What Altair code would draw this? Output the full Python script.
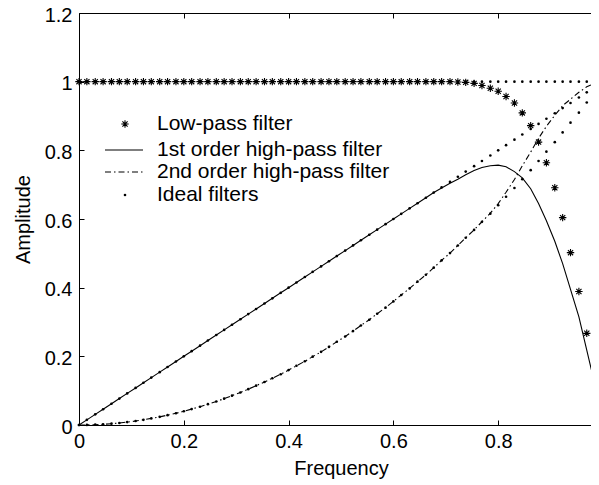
import altair as alt
import pandas as pd

# ---------------- data ----------------
freq = [0.0, 0.015, 0.031, 0.046, 0.062, 0.077, 0.092, 0.108, 0.123, 0.138,
        0.154, 0.169, 0.185, 0.2, 0.215, 0.231, 0.246, 0.262, 0.277, 0.292,
        0.308, 0.323, 0.338, 0.354, 0.369, 0.385, 0.4, 0.415, 0.431, 0.446,
        0.462, 0.477, 0.492, 0.508, 0.523, 0.538, 0.554, 0.569, 0.585, 0.6,
        0.615, 0.631, 0.646, 0.662, 0.677, 0.692, 0.708, 0.723, 0.738, 0.754,
        0.769, 0.785, 0.8, 0.815, 0.831, 0.846, 0.862, 0.877, 0.892, 0.908,
        0.923, 0.938, 0.954, 0.969, 0.985, 1.0]

low_pass = [1.0, 1.0, 1.0, 1.0, 1.0, 1.0, 1.0, 1.0, 1.0, 1.0,
            1.0, 1.0, 1.0, 1.0, 1.0, 1.0, 1.0, 1.0, 1.0, 1.0,
            1.0, 1.0, 1.0, 1.0, 1.0, 1.0, 1.0, 1.0, 1.0, 1.0,
            1.0, 1.0, 1.0, 1.0, 1.0, 1.0, 1.0, 1.0, 1.0, 1.0,
            1.0, 1.0, 1.0, 1.0, 1.0, 1.0, 1.0, 0.999, 0.998, 0.995,
            0.989, 0.981, 0.972, 0.957, 0.938, 0.909, 0.872, 0.824, 0.764, 0.691,
            0.604, 0.502, 0.389, 0.267, 0.136, 0.0]

first_order = [0.0, 0.015, 0.031, 0.046, 0.062, 0.077, 0.092, 0.108, 0.123, 0.138,
               0.154, 0.169, 0.185, 0.2, 0.215, 0.231, 0.246, 0.262, 0.277, 0.292,
               0.308, 0.323, 0.338, 0.354, 0.369, 0.385, 0.4, 0.415, 0.431, 0.446,
               0.462, 0.477, 0.492, 0.508, 0.523, 0.538, 0.554, 0.569, 0.585, 0.6,
               0.615, 0.631, 0.646, 0.662, 0.677, 0.69, 0.704, 0.716, 0.729, 0.741,
               0.75, 0.755, 0.757, 0.752, 0.738, 0.72, 0.688, 0.645, 0.595, 0.535,
               0.47, 0.395, 0.315, 0.218, 0.115, 0.01]

second_order = [0.0, 0.0002, 0.0009, 0.0021, 0.0038, 0.0059, 0.0085, 0.0116, 0.0151, 0.0192,
                0.0237, 0.0286, 0.0341, 0.04, 0.0464, 0.0533, 0.0606, 0.0684, 0.0767, 0.0854,
                0.0947, 0.1044, 0.1146, 0.1252, 0.1363, 0.1479, 0.16, 0.1725, 0.1856, 0.1991,
                0.213, 0.2275, 0.2424, 0.2578, 0.2736, 0.2899, 0.3067, 0.324, 0.3418, 0.36,
                0.3787, 0.3979, 0.4175, 0.4376, 0.4582, 0.4793, 0.5008, 0.5228, 0.5453, 0.5683,
                0.592, 0.617, 0.645, 0.678, 0.715, 0.755, 0.795, 0.835, 0.87, 0.902,
                0.93, 0.949, 0.969, 0.985, 0.996, 1.0]

ideal_flat = [1.0, 1.0, 1.0, 1.0, 1.0, 1.0, 1.0, 1.0, 1.0, 1.0,
              1.0, 1.0, 1.0, 1.0, 1.0, 1.0, 1.0, 1.0, 1.0, 1.0,
              1.0, 1.0, 1.0, 1.0, 1.0, 1.0, 1.0, 1.0, 1.0, 1.0,
              1.0, 1.0, 1.0, 1.0, 1.0, 1.0, 1.0, 1.0, 1.0, 1.0,
              1.0, 1.0, 1.0, 1.0, 1.0, 1.0, 1.0, 1.0, 1.0, 1.0,
              1.0, 1.0, 1.0, 1.0, 1.0, 1.0, 1.0, 1.0, 1.0, 1.0,
              1.0, 1.0, 1.0, 1.0, 1.0, 1.0]

ideal_first = [0.0, 0.015, 0.031, 0.046, 0.062, 0.077, 0.092, 0.108, 0.123, 0.138,
               0.154, 0.169, 0.185, 0.2, 0.215, 0.231, 0.246, 0.262, 0.277, 0.292,
               0.308, 0.323, 0.338, 0.354, 0.369, 0.385, 0.4, 0.415, 0.431, 0.446,
               0.462, 0.477, 0.492, 0.508, 0.523, 0.538, 0.554, 0.569, 0.585, 0.6,
               0.615, 0.631, 0.646, 0.662, 0.677, 0.692, 0.708, 0.723, 0.738, 0.754,
               0.769, 0.785, 0.8, 0.815, 0.831, 0.846, 0.862, 0.877, 0.892, 0.908,
               0.923, 0.938, 0.954, 0.969, 0.985, 1.0]

ideal_second = [0.0, 0.0002, 0.0009, 0.0021, 0.0038, 0.0059, 0.0085, 0.0116, 0.0151, 0.0192,
                0.0237, 0.0286, 0.0341, 0.04, 0.0464, 0.0533, 0.0606, 0.0684, 0.0767, 0.0854,
                0.0947, 0.1044, 0.1146, 0.1252, 0.1363, 0.1479, 0.16, 0.1725, 0.1856, 0.1991,
                0.213, 0.2275, 0.2424, 0.2578, 0.2736, 0.2899, 0.3067, 0.324, 0.3418, 0.36,
                0.3787, 0.3979, 0.4175, 0.4376, 0.4582, 0.4793, 0.5008, 0.5228, 0.5453, 0.5683,
                0.5917, 0.6156, 0.64, 0.6649, 0.6902, 0.716, 0.7423, 0.769, 0.7962, 0.8239,
                0.8521, 0.8807, 0.9098, 0.9394, 0.9695, 1.0]

x_ticks = [0, 0.2, 0.4, 0.6, 0.8, 1]
y_ticks = [0, 0.2, 0.4, 0.6, 0.8, 1, 1.2]
legend_labels = ["Low-pass filter", "1st order high-pass filter",
                 "2nd order high-pass filter", "Ideal filters"]

# ---------------- styling / layout ----------------
W, H = 524, 412
FONT = "Liberation Sans"
FS = 20
LEG_FS = 21
STAR = "M-1,0L1,0M0,-1L0,1M-0.7,-0.7L0.7,0.7M-0.7,0.7L0.7,-0.7"
DASHDOT = [6, 3, 1.5, 3]
LEG_TEXT_X, LEG_SYM_X, LEG_LINE_X0, LEG_LINE_X1 = 78, 46, 26, 64
LEG_ROWS = [111, 137, 159, 182]

lp_df = pd.DataFrame({"f": freq, "a": low_pass})
h1_df = pd.DataFrame({"f": freq, "a": first_order})
h2_df = pd.DataFrame({"f": freq, "a": second_order})
ideal_df = pd.DataFrame({
    "f": freq + freq + freq,
    "a": ideal_flat + ideal_first + ideal_second,
})

xs = alt.Scale(domain=[0, 1], nice=False, zero=False)
ys = alt.Scale(domain=[0, 1.2], nice=False, zero=False)

ax_x_main = alt.Axis(orient="bottom", values=x_ticks, format="~g", ticks=False, tickSize=0,
                     domain=False, grid=False, labelFontSize=FS, labelFont=FONT,
                     labelColor="black", labelPadding=6, labelOverlap=False, labelFlush=False,
                     title="Frequency", titleFontSize=FS, titleFont=FONT, titleColor="black",
                     titleFontWeight="normal", titlePadding=7)
ax_y_main = alt.Axis(orient="left", values=y_ticks, format="~g", ticks=False, tickSize=0,
                     domain=False, grid=False, labelFontSize=FS, labelFont=FONT,
                     labelColor="black", labelPadding=7, labelOverlap=False, labelFlush=False,
                     labelOffset=2,
                     title="Amplitude", titleFontSize=FS, titleFont=FONT, titleColor="black",
                     titleFontWeight="normal", titlePadding=11)


def tick_axis(orient, values, offset):
    return alt.Axis(orient=orient, values=values, offset=offset, labels=False, domain=False,
                    grid=False, ticks=True, tickSize=5, tickColor="black", tickWidth=1,
                    title=None)


solid = alt.Chart(h1_df).mark_line(color="black", strokeWidth=1.1).encode(
    x=alt.X("f:Q", scale=xs, axis=ax_x_main),
    y=alt.Y("a:Q", scale=ys, axis=ax_y_main),
)
dashdot = alt.Chart(h2_df).mark_line(color="black", strokeWidth=1.1, strokeDash=DASHDOT).encode(
    x=alt.X("f:Q", scale=xs, axis=tick_axis("top", x_ticks, -H)),
    y=alt.Y("a:Q", scale=ys, axis=tick_axis("right", y_ticks, -W)),
)
dots = alt.Chart(ideal_df).mark_circle(size=7, color="black", opacity=1).encode(
    x=alt.X("f:Q", scale=xs, axis=tick_axis("bottom", x_ticks, -H)),
    y=alt.Y("a:Q", scale=ys, axis=tick_axis("left", y_ticks, -W)),
)
stars = alt.Chart(lp_df).mark_point(shape=STAR, filled=False, size=55, color="black",
                                    strokeWidth=1.1, opacity=1).encode(
    x=alt.X("f:Q", scale=xs, axis=None),
    y=alt.Y("a:Q", scale=ys, axis=None),
)

layers = [solid, dashdot, dots, stars]

for i, lab in enumerate(legend_labels):
    layers.append(
        alt.Chart(pd.DataFrame({"label": [lab]})).mark_text(
            align="left", baseline="middle", fontSize=LEG_FS, font=FONT, color="black"
        ).encode(x=alt.value(LEG_TEXT_X), y=alt.value(LEG_ROWS[i]), text="label:N")
    )

one = pd.DataFrame({"k": [0]})
layers.append(alt.Chart(one).mark_point(shape=STAR, filled=False, size=55, color="black",
                                        strokeWidth=1.1, opacity=1).encode(
    x=alt.value(LEG_SYM_X), y=alt.value(LEG_ROWS[0])))
layers.append(alt.Chart(one).mark_rule(color="black", strokeWidth=1.1).encode(
    x=alt.value(LEG_LINE_X0), x2=alt.value(LEG_LINE_X1), y=alt.value(LEG_ROWS[1])))
layers.append(alt.Chart(one).mark_rule(color="black", strokeWidth=1.1, strokeDash=DASHDOT).encode(
    x=alt.value(LEG_LINE_X0), x2=alt.value(LEG_LINE_X1), y=alt.value(LEG_ROWS[2])))
layers.append(alt.Chart(one).mark_circle(size=7, color="black", opacity=1).encode(
    x=alt.value(LEG_SYM_X), y=alt.value(LEG_ROWS[3])))

chart = alt.layer(*layers).resolve_axis(x="independent", y="independent").properties(
    width=W, height=H,
    autosize=alt.AutoSizeParams(type="none"),
    padding={"left": 71, "top": 5, "right": -12, "bottom": 60},
).configure(font=FONT).configure_view(stroke="black", strokeWidth=1)

chart.save("out.html", embed_options={"renderer": "svg", "actions": False})
